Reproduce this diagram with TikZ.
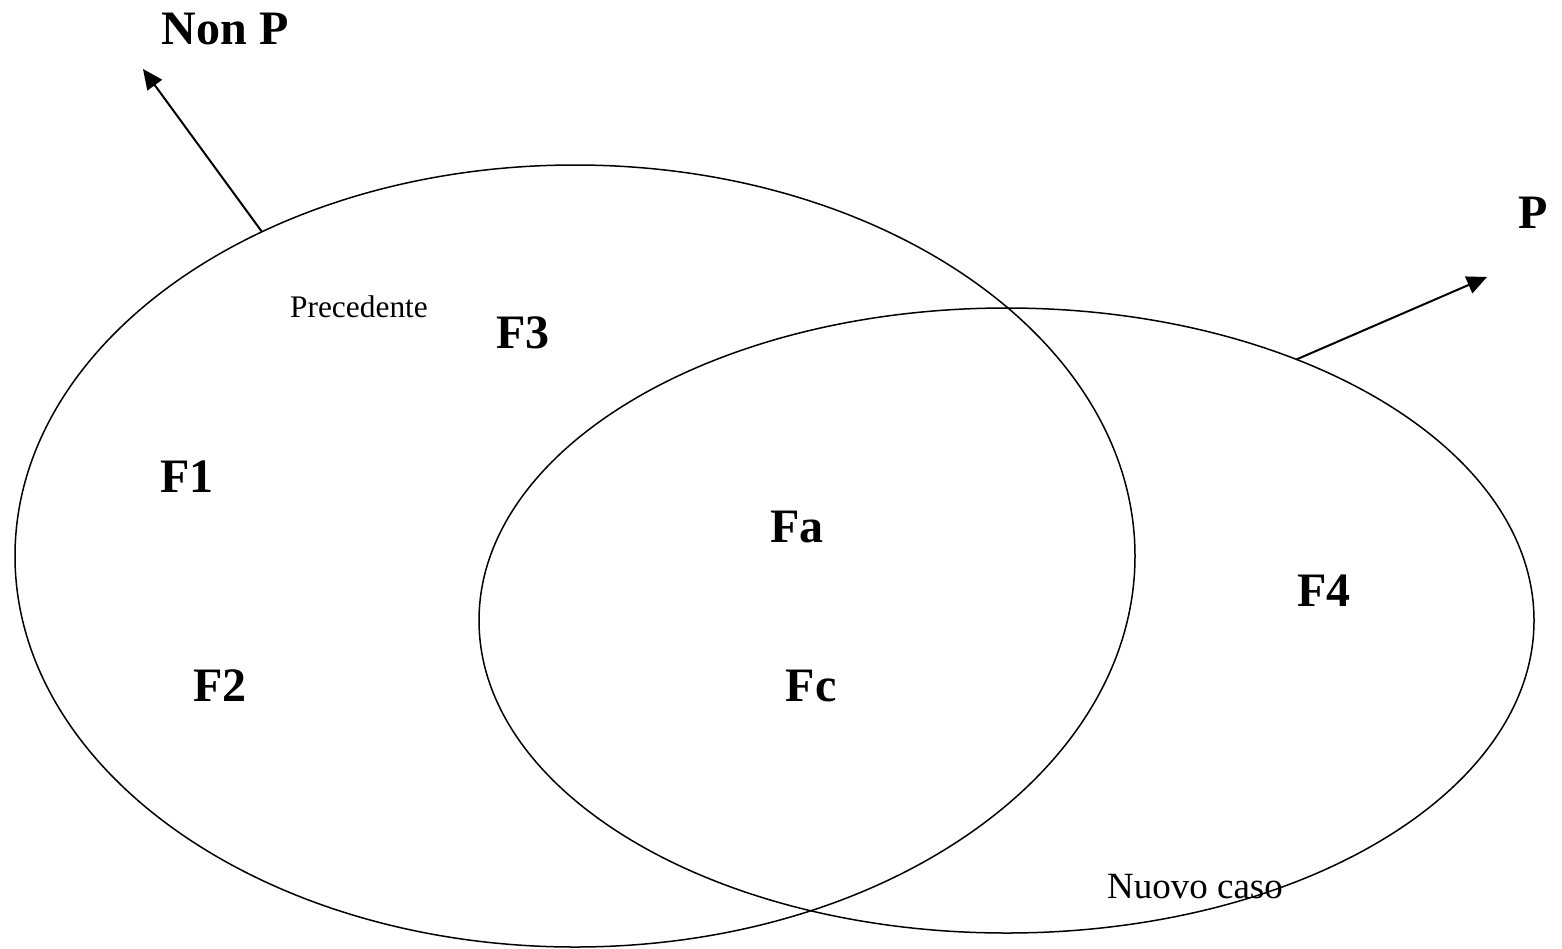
\documentclass[tikz,border=0pt]{standalone}
\usepackage{fontspec}
\setmainfont{Liberation Serif}
\usetikzlibrary{shapes.geometric,arrows.meta}
\begin{document}
\begin{tikzpicture}[x=0.5pt,y=-0.5pt,
  setbox/.style={ellipse,draw,line width=0.75pt,inner sep=0pt,outer sep=0pt},
  biglabel/.style={inner sep=0pt,font=\fontsize{24}{28}\selectfont\bfseries},
  smalllabel/.style={inner sep=0pt},
  pointer/.style={line width=1pt,-{Triangle[length=10pt,width=9pt]}}]
  \useasboundingbox (0,0) rectangle (1562,948);

  % the two overlapping sets
  \node[setbox,minimum width=560pt,minimum height=391pt] (prec) at (575,556) {};
  \node[setbox,minimum width=527.5pt,minimum height=312.5pt] (nuovo) at (1006.5,620.5) {};

  % set captions
  \node[smalllabel,font=\fontsize{15.7}{18}\selectfont] (precl) at (359,307) {Precedente};
  \node[smalllabel,font=\fontsize{18.5}{22}\selectfont] (nuovol) at (1195,887) {Nuovo caso};

  % factors
  \node[biglabel] (f3) at (523,333) {F3};
  \node[biglabel] (f1) at (187,477) {F1};
  \node[biglabel] (fa) at (797,527) {Fa};
  \node[biglabel] (f4) at (1324,591) {F4};
  \node[biglabel] (f2) at (220,686) {F2};
  \node[biglabel] (fc) at (811,686) {Fc};

  % outcomes
  \node[biglabel] (nonp) at (225,29) {Non P};
  \node[biglabel] (p) at (1533,213) {P};
  \coordinate (nonptip) at (143,69);
  \coordinate (ptip) at (1487,277);

  \draw[pointer] (prec.134.3) -- (nonptip);
  \draw[pointer] (nuovo.42.6) -- (ptip);
\end{tikzpicture}
\end{document}
